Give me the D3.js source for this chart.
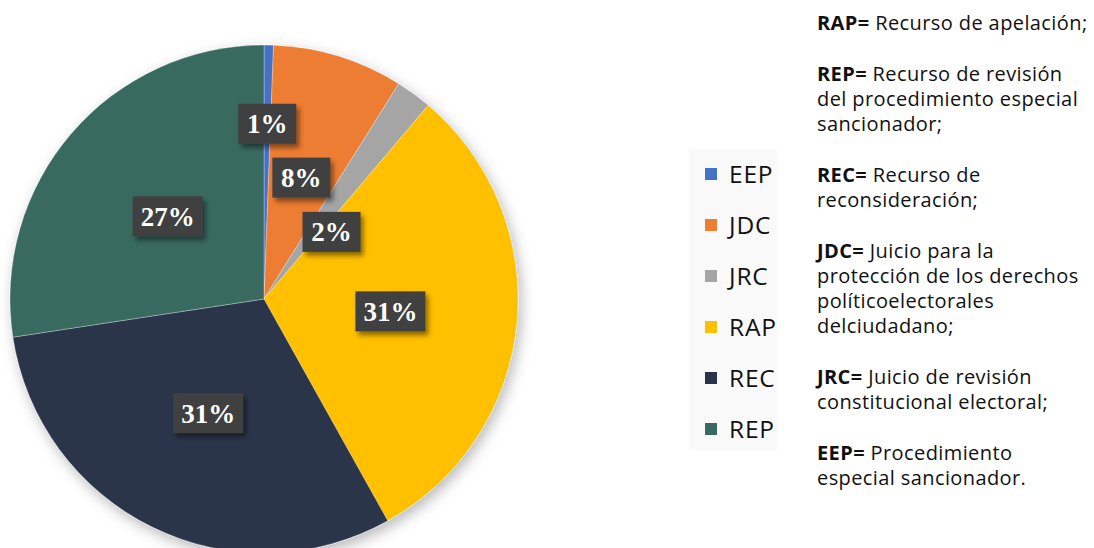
<!DOCTYPE html>
<html>
<head>
<meta charset="utf-8">
<script src="https://cdn.jsdelivr.net/npm/d3@7"></script>
<style>
  html, body { margin: 0; padding: 0; background: #fff; }
  svg { display: block; }
  .leg text { font-family: "Open Sans", Lato, sans-serif; fill: #111; letter-spacing: 0.8px; }
  .notes text { font-family: "Open Sans", Lato, sans-serif; fill: #111; font-size: 20px; letter-spacing: 0.4px; }
  .notes .b { font-weight: 700; }
</style>
</head>
<body>
<div id="chart"></div>
<script>
// Share of cases by type of appeal (percent), clockwise from 12 o'clock
const categories = ['EEP', 'JDC', 'JRC', 'RAP', 'REC', 'REP'];
const shares = [0.6, 8.3, 2.3, 30.7, 30.7, 27.4];
const labels = ['1%', '8%', '2%', '31%', '31%', '27%'];
const colors = ['#4472c4', '#ed7d31', '#a5a5a5', '#ffc000', '#29344a', '#386a61'];

// glossary on the right: [bold part, rest] per line, null = gap
const notes = [
  ['RAP=', ' Recurso de apelación;'],
  null,
  ['REP=', ' Recurso de revisión'],
  ['', 'del procedimiento especial'],
  ['', 'sancionador;'],
  null,
  ['REC=', ' Recurso de'],
  ['', 'reconsideración;'],
  null,
  ['JDC=', ' Juicio para la'],
  ['', 'protección de los derechos'],
  ['', 'políticoelectorales'],
  ['', 'delciudadano;'],
  null,
  ['JRC=', ' Juicio de revisión'],
  ['', 'constitucional electoral;'],
  null,
  ['EEP=', ' Procedimiento'],
  ['', 'especial sancionador.']
];

const width = 1094, height = 548;
const cx = 264, cy = 299, R = 254;

const svg = d3.select('#chart').append('svg')
  .attr('width', width)
  .attr('height', height);

const defs = svg.append('defs');
const pieShadow = defs.append('filter')
  .attr('id', 'pie-shadow')
  .attr('x', '-20%').attr('y', '-20%')
  .attr('width', '140%').attr('height', '140%');
pieShadow.append('feDropShadow')
  .attr('dx', 3).attr('dy', 5)
  .attr('stdDeviation', 7)
  .attr('flood-color', '#000')
  .attr('flood-opacity', 0.28);

const boxShadow = defs.append('filter')
  .attr('id', 'box-shadow')
  .attr('x', '-30%').attr('y', '-30%')
  .attr('width', '160%').attr('height', '160%');
boxShadow.append('feDropShadow')
  .attr('dx', 3).attr('dy', 4)
  .attr('stdDeviation', 2.5)
  .attr('flood-color', '#000')
  .attr('flood-opacity', 0.45);

const pie = d3.pie().sort(null).value(d => d);
const arcs = pie(shares);
const arc = d3.arc().innerRadius(0).outerRadius(R);

const g = svg.append('g').attr('transform', `translate(${cx},${cy})`);

g.append('g')
  .attr('filter', 'url(#pie-shadow)')
  .selectAll('path')
  .data(arcs)
  .join('path')
  .attr('d', arc)
  .attr('fill', (d, i) => colors[i])
  .attr('stroke', 'rgba(255,255,255,0.5)')
  .attr('stroke-width', 0.6);

// label placement: radius as fraction of R, and angle tweak (deg) for the thin slices
const labelR = [0.69, 0.5, 0.375, 0.5, 0.5, 0.5];
const labelTurn = [0, 0, 9, 0, 0, 0];

const lab = g.append('g').selectAll('g')
  .data(arcs)
  .join('g')
  .attr('transform', (d, i) => {
    const a = (d.startAngle + d.endAngle) / 2 + labelTurn[i] * Math.PI / 180;
    const r = labelR[i] * R;
    return `translate(${r * Math.sin(a)},${-r * Math.cos(a)})`;
  });

lab.append('rect')
  .attr('x', (d, i) => labels[i].length > 2 ? -35 : -29)
  .attr('y', -20)
  .attr('width', (d, i) => labels[i].length > 2 ? 70 : 58)
  .attr('height', 40)
  .attr('fill', '#404040')
  .attr('filter', 'url(#box-shadow)');

lab.append('text')
  .attr('text-anchor', 'middle')
  .attr('dy', '0.35em')
  .attr('font-family', '"Liberation Serif", "Times New Roman", serif')
  .attr('font-weight', 700)
  .attr('font-size', 27)
  .attr('fill', '#fff')
  .text((d, i) => labels[i]);

// legend
const leg = svg.append('g').attr('class', 'leg').attr('transform', 'translate(689,149)');
leg.append('rect')
  .attr('width', 88).attr('height', 301)
  .attr('fill', '#f9f9f9');

const ly = d3.scalePoint().domain(categories).range([25, 280]);
const item = leg.selectAll('g.item')
  .data(categories)
  .join('g')
  .attr('class', 'item')
  .attr('transform', d => `translate(0,${ly(d)})`);
item.append('rect')
  .attr('x', 16).attr('y', -6)
  .attr('width', 12).attr('height', 12)
  .attr('fill', (d, i) => colors[i]);
item.append('text')
  .attr('x', 40)
  .attr('dy', '0.36em')
  .attr('font-size', 24.5)
  .text(d => d);

// glossary
const nt = svg.append('g').attr('class', 'notes').attr('transform', 'translate(817,0)');
let y = 30;
notes.forEach(line => {
  if (!line) { y += 26; return; }
  const t = nt.append('text').attr('x', 0).attr('y', y);
  if (line[0]) t.append('tspan').attr('class', 'b').text(line[0]);
  t.append('tspan').text(line[1]);
  y += 25;
});
</script>
</body>
</html>
